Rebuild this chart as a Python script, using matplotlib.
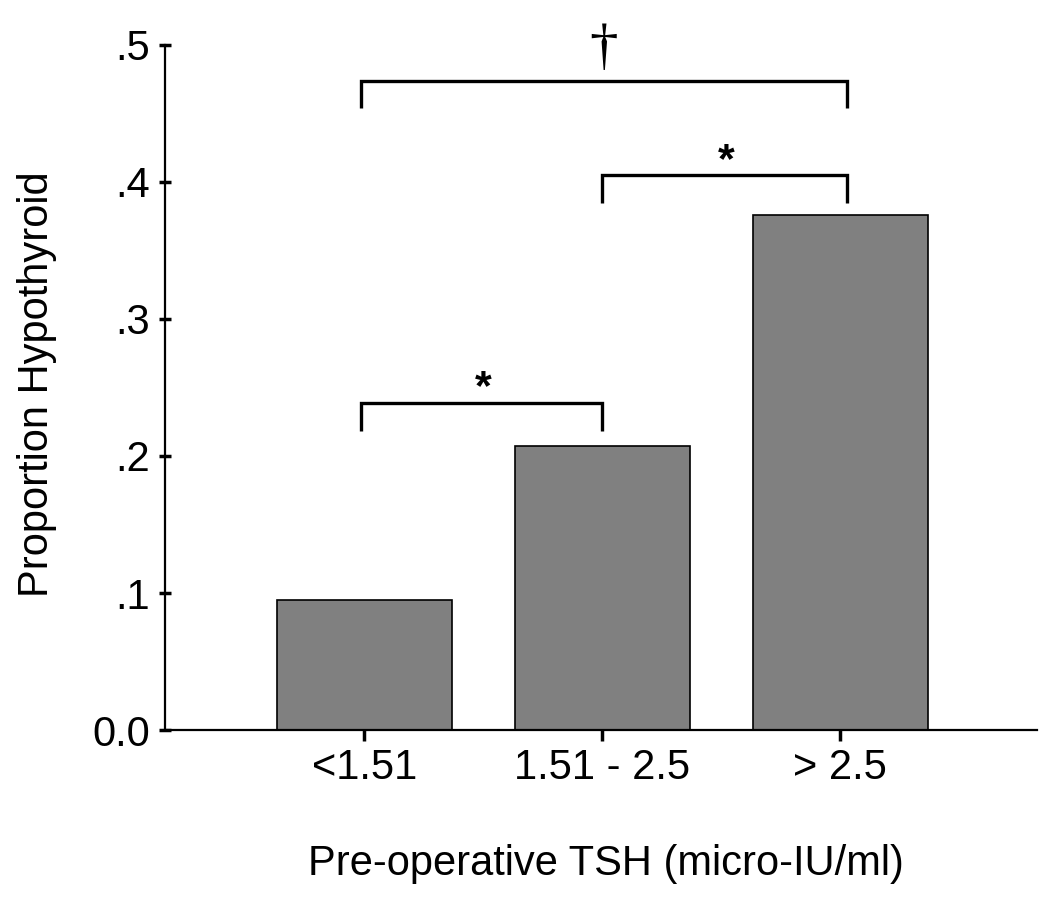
import matplotlib
matplotlib.use("Agg")
import matplotlib.pyplot as plt

plt.rcParams['font.family'] = ['Liberation Sans', 'DejaVu Sans']

categories = ["<1.51", "1.51 - 2.5", "> 2.5"]
values = [0.095, 0.207, 0.376]
ytick_values = [0.0, 0.1, 0.2, 0.3, 0.4, 0.5]
ytick_labels = ["0.0", ".1", ".2", ".3", ".4", ".5"]

# significance brackets: (left x, right x, top y, end y, symbol)
bracket_left = [-0.015, 1.0, -0.015]
bracket_right = [1.0, 2.027, 2.027]
bracket_top = [0.2387, 0.405, 0.474]
bracket_end = [0.218, 0.385, 0.454]
bracket_symbol = ["*", "*", "\u2020"]

fig = plt.figure(figsize=(10.5, 9.14), dpi=100)
ax = fig.add_axes([0.1571, 0.2013, 0.8305, 0.7495])

x = list(range(len(categories)))
ax.bar(x, values, width=0.735, color="#808080", edgecolor="black", linewidth=1.2, zorder=2)

ax.set_xlim(-0.838, 2.826)
ax.set_ylim(0, 0.5)
ax.set_yticks(ytick_values)
ax.set_yticklabels(ytick_labels)
ax.set_xticks(x)
ax.set_xticklabels(categories)

for s in ["top", "right"]:
    ax.spines[s].set_visible(False)
ax.spines["left"].set_linewidth(1.6)
ax.spines["bottom"].set_linewidth(1.6)

ax.tick_params(axis="y", direction="inout", length=9, width=2.5, labelsize=30, pad=6)
ax.tick_params(axis="x", direction="out", length=8, width=2.5, labelsize=30, pad=5)

ax.set_xlabel("Pre-operative TSH (micro-IU/ml)", fontsize=30, va="top")
ax.set_ylabel("Proportion Hypothyroid", fontsize=30)
ax.xaxis.set_label_coords(0.506, -0.166)
ax.yaxis.set_label_coords(-0.124, 0.505)

for l, r, t, e, s in zip(bracket_left, bracket_right, bracket_top, bracket_end, bracket_symbol):
    ax.plot([l, l, r, r], [e, t, t, e], color="black", linewidth=2.4,
            solid_capstyle="butt", solid_joinstyle="miter", clip_on=False)
    if s == "*":
        ax.text((l + r) / 2 + 0.005, t - 0.004, s, ha="center", va="bottom",
                fontsize=31, fontweight="bold", family=["Liberation Sans", "DejaVu Sans"])
    else:
        ax.text(1.005, t + 0.004, s, ha="center", va="bottom",
                fontsize=41, family=["Liberation Serif", "DejaVu Serif"], clip_on=False)

fig.savefig("out.png", dpi=100)
